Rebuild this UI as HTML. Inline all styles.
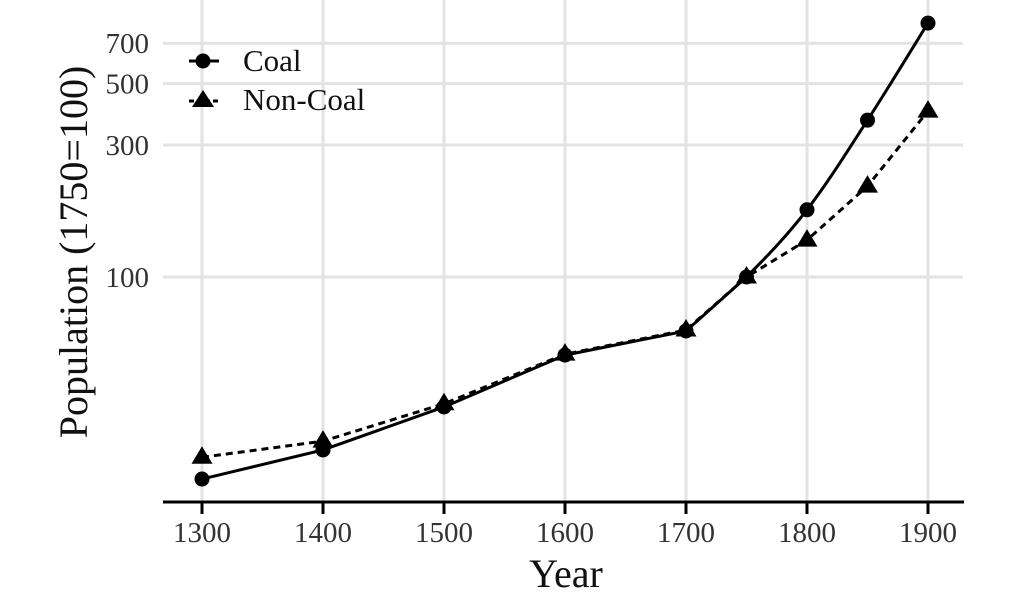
<!DOCTYPE html>
<html><head><meta charset="utf-8"><style>
body{margin:0;background:#fff}
svg{display:block;font-family:"Liberation Serif",serif}
</style></head><body>
<svg id="chart" width="1027" height="597" viewBox="0 0 1027 597" xmlns="http://www.w3.org/2000/svg">
<g id="grid"></g>
<g id="axes"></g>
<g id="series"></g>
<text x="566" y="587" font-size="40" text-anchor="middle" fill="#111">Year</text>
<text transform="translate(87,252) rotate(-90)" font-size="40" text-anchor="middle" fill="#111">Population (1750=100)</text>
<g>
<g>
<line x1="189" y1="61" x2="219" y2="61" stroke="#000" stroke-width="3"/>
<circle cx="203" cy="61" r="7.5" fill="#000"/>
<text x="243" y="71" font-size="31" fill="#111">Coal</text></g>
<g>
<line x1="189" y1="101" x2="219" y2="101" stroke="#000" stroke-width="3" stroke-dasharray="5,3"/>
<polygon points="203,90 214,107 192,107" fill="#000"/>
<text x="243" y="110" font-size="31" fill="#111">Non-Coal</text></g>
</g>
</svg>
<script>
const years=[1300,1400,1500,1600,1700,1750,1800,1850,1900];
const coal=[18.6,23.7,33.9,52.2,63.8,100,175,369,828];
const nonCoal=[22.3,25.5,34.8,52.6,64.3,100,136,213,398];
const yTicks=[100,300,500,700];
const xTicks=[1300,1400,1500,1600,1700,1800,1900];
const NS="http://www.w3.org/2000/svg";
const xs=y=>202+(y-1300)*1.21;
const ys=v=>277-Math.log10(v/100)*276.6;
const grid=document.getElementById('grid'),axes=document.getElementById('axes'),ser=document.getElementById('series');
function mk(t,a,p){const e=document.createElementNS(NS,t);for(const k in a)e.setAttribute(k,a[k]);p.appendChild(e);return e;}
xTicks.forEach(t=>{
 const l=mk('line',{x1:xs(t),x2:xs(t),y1:0,y2:502,stroke:'#e3e3e3','stroke-width':3},grid);
 
 
 const tk=mk('line',{x1:xs(t),x2:xs(t),y1:502,y2:514,stroke:'#000','stroke-width':3},axes);
 
 
 const tx=mk('text',{x:xs(t),y:542,'font-size':29,'text-anchor':'middle',fill:'#333'},axes);
 tx.textContent=t;
 
 
});
yTicks.forEach(t=>{
 const l=mk('line',{x1:163,x2:963,y1:ys(t),y2:ys(t),stroke:'#e3e3e3','stroke-width':3},grid);
 
 
 const tx=mk('text',{x:149,y:ys(t)+10,'font-size':29,'text-anchor':'end',fill:'#333'},axes);
 tx.textContent=t;
 
 
});
const ax=mk('line',{x1:163,x2:964,y1:502,y2:502,stroke:'#000','stroke-width':3},axes);


function path(vals,smoothFrom){
 const p=years.map((y,i)=>[xs(y),ys(vals[i])]);
 let d='M'+p[0][0]+','+p[0][1];
 for(let i=0;i<p.length-1;i++){
  if(years[i]<smoothFrom){d+='L'+p[i+1][0]+','+p[i+1][1];continue;}
  const p0=p[Math.max(i-1,0)],p1=p[i],p2=p[i+1],p3=p[Math.min(i+2,p.length-1)];
  const k=1/6;
  d+='C'+(p1[0]+(p2[0]-p0[0])*k)+','+(p1[1]+(p2[1]-p0[1])*k)+' '+(p2[0]-(p3[0]-p1[0])*k)+','+(p2[1]-(p3[1]-p1[1])*k)+' '+p2[0]+','+p2[1];
 }
 return d;
}
const nl=mk('path',{d:path(nonCoal,99999),fill:'none',stroke:'#000','stroke-width':3,'stroke-dasharray':'7,5'},ser);


const cl=mk('path',{d:path(coal,1750),fill:'none',stroke:'#000','stroke-width':3},ser);


years.forEach((y,i)=>{
 const x=xs(y),yy=ys(nonCoal[i]);
 const t=mk('polygon',{points:`${x},${yy-11} ${x+10.5},${yy+6.5} ${x-10.5},${yy+6.5}`,fill:'#000'},ser);
 
 
 const c=mk('circle',{cx:x,cy:ys(coal[i]),r:7.5,fill:'#000'},ser);
 
 
});
</script>
</body></html>
